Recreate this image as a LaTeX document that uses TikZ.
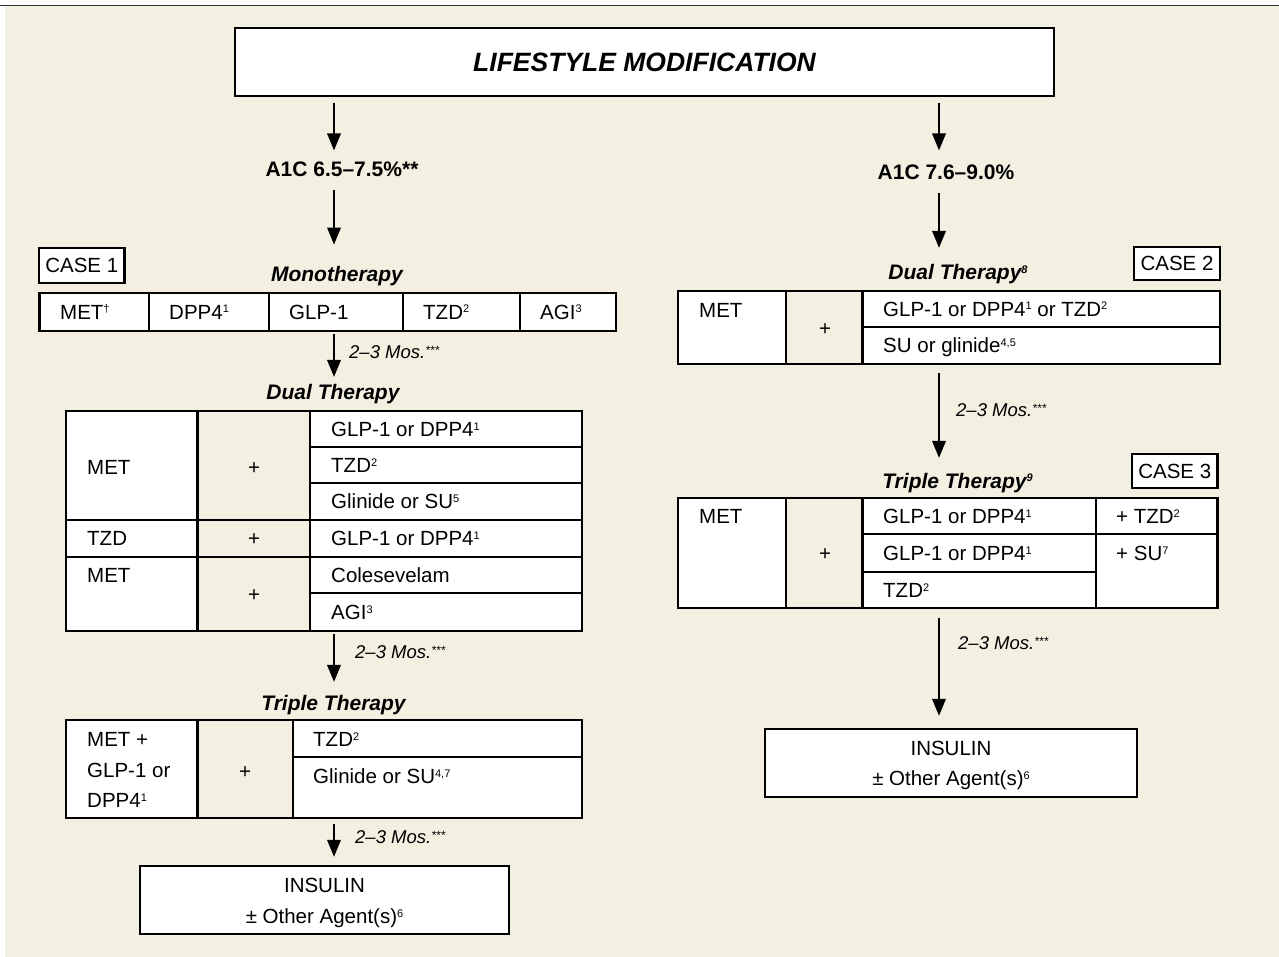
\documentclass[tikz,border=0pt]{standalone}
\usepackage{fontspec}
\setmainfont{Liberation Sans}
\usetikzlibrary{arrows.meta,calc}
\definecolor{cream}{RGB}{243,240,226}
\newcommand\spr[1]{\raisebox{6.3pt}{\fontsize{11}{11}\selectfont #1}}
\newcommand\spm[1]{\raisebox{4.5pt}{\fontsize{12}{12}\selectfont #1}}
\tikzset{
  cellw/.style={draw=black, line width=2.4pt, fill=white, inner sep=0pt},
  cellc/.style={draw=black, line width=2.4pt, inner sep=0pt},
  txt/.style={inner sep=0pt, font=\fontsize{20.5}{24}\selectfont},
  hdr/.style={inner sep=0pt, font=\fontsize{21}{25}\selectfont\bfseries\itshape},
  a1c/.style={inner sep=0pt, font=\fontsize{21}{25}\selectfont\bfseries},
  mos/.style={inner sep=0pt, font=\fontsize{18.5}{22}\selectfont\itshape},
  arr/.style={line width=2pt, -{Triangle[length=17pt,width=13.5pt]}},
  casebox/.style={draw=black, line width=2.4pt, fill=white, inner sep=0pt, font=\fontsize{20.5}{24}\selectfont},
}
\newcommand\cbox[6]{\node[#6, minimum width={#4-#2}, minimum height={#5-#3}] (#1) at ({(#2+#4)/2},{(#3+#5)/2}) {};}
\newcommand\ctext[4]{\node[txt, anchor=base west] (#1) at (#2,{#3+7.3}) {#4};}
\newcommand\ptext[4]{\node[txt, anchor=base] (#1) at (#2,{#3+7.3}) {#4};}
\begin{document}
\begin{tikzpicture}[x=1pt,y=-1pt]
\useasboundingbox (0,0) rectangle (1279,957);
\fill[white] (0,0) rectangle (1279,957);
\fill[cream] (5,6) rectangle (1279,957);
\draw[line width=1.6pt, black!80] (0,5.5) -- (1279,5.5);

\coordinate (axL) at (334,0);
\coordinate (axR) at (939,0);

% top box
\node[cellw, minimum width=819, minimum height=68, font=\fontsize{26.5}{30}\selectfont\bfseries\itshape] (life) at (644.5,62) {LIFESTYLE MODIFICATION};

% ---------------- left branch ----------------
\node[a1c, anchor=base] (a1cL) at (342,177) {A1C 6.5–7.5\%**};
\draw[arr, shorten <=6pt, shorten >=11.7pt] (life.south -| axL) -- (a1cL.north -| axL);

\node[casebox, minimum width=85.5, minimum height=35] (case1) at (81.75,265.5) {CASE 1};
\node[hdr, anchor=base] (monoL) at (337,282) {Monotherapy};
\draw[arr, shorten <=12.6pt, shorten >=22pt] (a1cL.south -| axL) -- (monoL.north -| axL);

% monotherapy table
\cbox{m1}{39.6}{293}{149}{331}{cellw}
\cbox{m2}{149}{293}{269}{331}{cellw}
\cbox{m3}{269}{293}{403}{331}{cellw}
\cbox{m4}{403}{293}{520}{331}{cellw}
\cbox{m5}{520}{293}{616}{331}{cellw}
\ctext{m1t}{60}{312}{MET\spr{†}}
\ctext{m2t}{169}{312}{DPP4\spr{1}}
\ctext{m3t}{289}{312}{GLP-1}
\ctext{m4t}{423}{312}{TZD\spr{2}}
\ctext{m5t}{540}{312}{AGI\spr{3}}

\node[mos, anchor=base west] (mos1) at (349,358.6) {2–3 Mos.\spm{***}};
\node[hdr, anchor=base] (dualL) at (333,399) {Dual Therapy};
\draw[arr, shorten <=2pt, shorten >=6.7pt] (m3.south -| axL) -- (dualL.north -| axL);

% dual therapy table (left)
\cbox{dl1}{66}{411}{197.5}{520}{cellw}
\cbox{dm1}{197.5}{411}{310}{520}{cellc}
\cbox{dr1}{310}{411}{582}{447}{cellw}
\cbox{dr2}{310}{447}{582}{483}{cellw}
\cbox{dr3}{310}{483}{582}{520}{cellw}
\cbox{dl2}{66}{520}{197.5}{557}{cellw}
\cbox{dm2}{197.5}{520}{310}{557}{cellc}
\cbox{dr4}{310}{520}{582}{557}{cellw}
\cbox{dl3}{66}{557}{197.5}{631}{cellw}
\cbox{dm3}{197.5}{557}{310}{631}{cellc}
\cbox{dr5}{310}{557}{582}{593}{cellw}
\cbox{dr6}{310}{593}{582}{631}{cellw}
\ctext{dl1t}{87}{467}{MET}
\ptext{dm1t}{254}{467}{+}
\ctext{dr1t}{331}{429}{GLP-1 or DPP4\spr{1}}
\ctext{dr2t}{331}{465}{TZD\spr{2}}
\ctext{dr3t}{331}{501.5}{Glinide or SU\spr{5}}
\ctext{dl2t}{87}{538.5}{TZD}
\ptext{dm2t}{254}{538.5}{+}
\ctext{dr4t}{331}{538.5}{GLP-1 or DPP4\spr{1}}
\ctext{dl3t}{87}{575}{MET}
\ptext{dm3t}{254}{594}{+}
\ctext{dr5t}{331}{575}{Colesevelam}
\ctext{dr6t}{331}{612}{AGI\spr{3}}

\node[mos, anchor=base west] (mos2) at (355,658.6) {2–3 Mos.\spm{***}};
\node[hdr, anchor=base] (tripL) at (333.5,710) {Triple Therapy};
\draw[arr, shorten <=2pt, shorten >=12.7pt] (dr6.south -| axL) -- (tripL.north -| axL);

% triple therapy table (left)
\cbox{tl1}{66}{720}{197.5}{818}{cellw}
\cbox{tm1}{197.5}{720}{293}{818}{cellc}
\cbox{tr1}{293}{720}{582}{757}{cellw}
\cbox{tr2}{293}{757}{582}{818}{cellw}
\ctext{tl1a}{87}{739}{MET +}
\ctext{tl1b}{87}{770}{GLP-1 or}
\ctext{tl1c}{87}{800}{DPP4\spr{1}}
\ptext{tm1t}{245}{771}{+}
\ctext{tr1t}{313}{739}{TZD\spr{2}}
\ctext{tr2t}{313}{776}{Glinide or SU\spr{4,7}}

\node[mos, anchor=base west] (mos3) at (355,843.6) {2–3 Mos.\spm{***}};
\cbox{insL}{140}{866}{509}{934}{cellw}
\ptext{insLa}{324.5}{885}{INSULIN}
\ptext{insLb}{324.5}{916}{± Other Agent(s)\spr{6}}
\draw[arr, shorten <=5pt, shorten >=8pt] (tr2.south -| axL) -- (insL.north -| axL);

% ---------------- right branch ----------------
\node[a1c, anchor=base] (a1cR) at (946,180) {A1C 7.6–9.0\%};
\draw[arr, shorten <=6pt, shorten >=14.7pt] (life.south -| axR) -- (a1cR.north -| axR);

\node[casebox, minimum width=86, minimum height=33] (case2) at (1177,263.5) {CASE 2};
\node[hdr, anchor=base] (dualR) at (958,280) {Dual Therapy\spr{8}};
\draw[arr, shorten <=12.6pt, shorten >=16.7pt] (a1cR.south -| axR) -- (dualR.north -| axR);

% dual therapy table (right)
\cbox{rdl}{678}{291}{786}{364}{cellw}
\cbox{rdm}{786}{291}{862.5}{364}{cellc}
\cbox{rdr1}{862.5}{291}{1220}{327}{cellw}
\cbox{rdr2}{862.5}{327}{1220}{364}{cellw}
\ctext{rdlt}{699}{310}{MET}
\ptext{rdmt}{825}{328}{+}
\ctext{rdr1t}{883}{309}{GLP-1 or DPP4\spr{1} or TZD\spr{2}}
\ctext{rdr2t}{883}{345.5}{SU or glinide\spr{4,5}}

\node[mos, anchor=base west] (mosR1) at (956,416.6) {2–3 Mos.\spm{***}};
\node[casebox, minimum width=85.5, minimum height=34] (case3) at (1174.75,471) {CASE 3};
\node[hdr, anchor=base] (tripR) at (957.5,488) {Triple Therapy\spr{9}};
\draw[arr, shorten <=8pt, shorten >=14.7pt] (rdr2.south -| axR) -- (tripR.north -| axR);

% triple therapy table (right)
\cbox{rtl}{678}{498}{786}{608}{cellw}
\cbox{rtm}{786}{498}{862.5}{608}{cellc}
\cbox{rtc1}{862.5}{498}{1096}{534}{cellw}
\cbox{rtc2}{862.5}{534}{1096}{572}{cellw}
\cbox{rtc3}{862.5}{572}{1096}{608}{cellw}
\cbox{rtd1}{1096}{498}{1217.5}{534}{cellw}
\cbox{rtd2}{1096}{534}{1217.5}{608}{cellw}
\ctext{rtlt}{699}{516}{MET}
\ptext{rtmt}{825}{553}{+}
\ctext{rtc1t}{883}{516}{GLP-1 or DPP4\spr{1}}
\ctext{rtc2t}{883}{553}{GLP-1 or DPP4\spr{1}}
\ctext{rtc3t}{883}{590}{TZD\spr{2}}
\ctext{rtd1t}{1116}{516}{+ TZD\spr{2}}
\ctext{rtd2t}{1116}{553}{+ SU\spr{7}}

\node[mos, anchor=base west] (mosR2) at (958,649.6) {2–3 Mos.\spm{***}};
\cbox{insR}{765}{729}{1137}{797}{cellw}
\ptext{insRa}{951}{748}{INSULIN}
\ptext{insRb}{951}{778}{± Other Agent(s)\spr{6}}
\draw[arr, shorten <=9pt, shorten >=12pt] (rtc3.south -| axR) -- (insR.north -| axR);
\end{tikzpicture}
\end{document}
